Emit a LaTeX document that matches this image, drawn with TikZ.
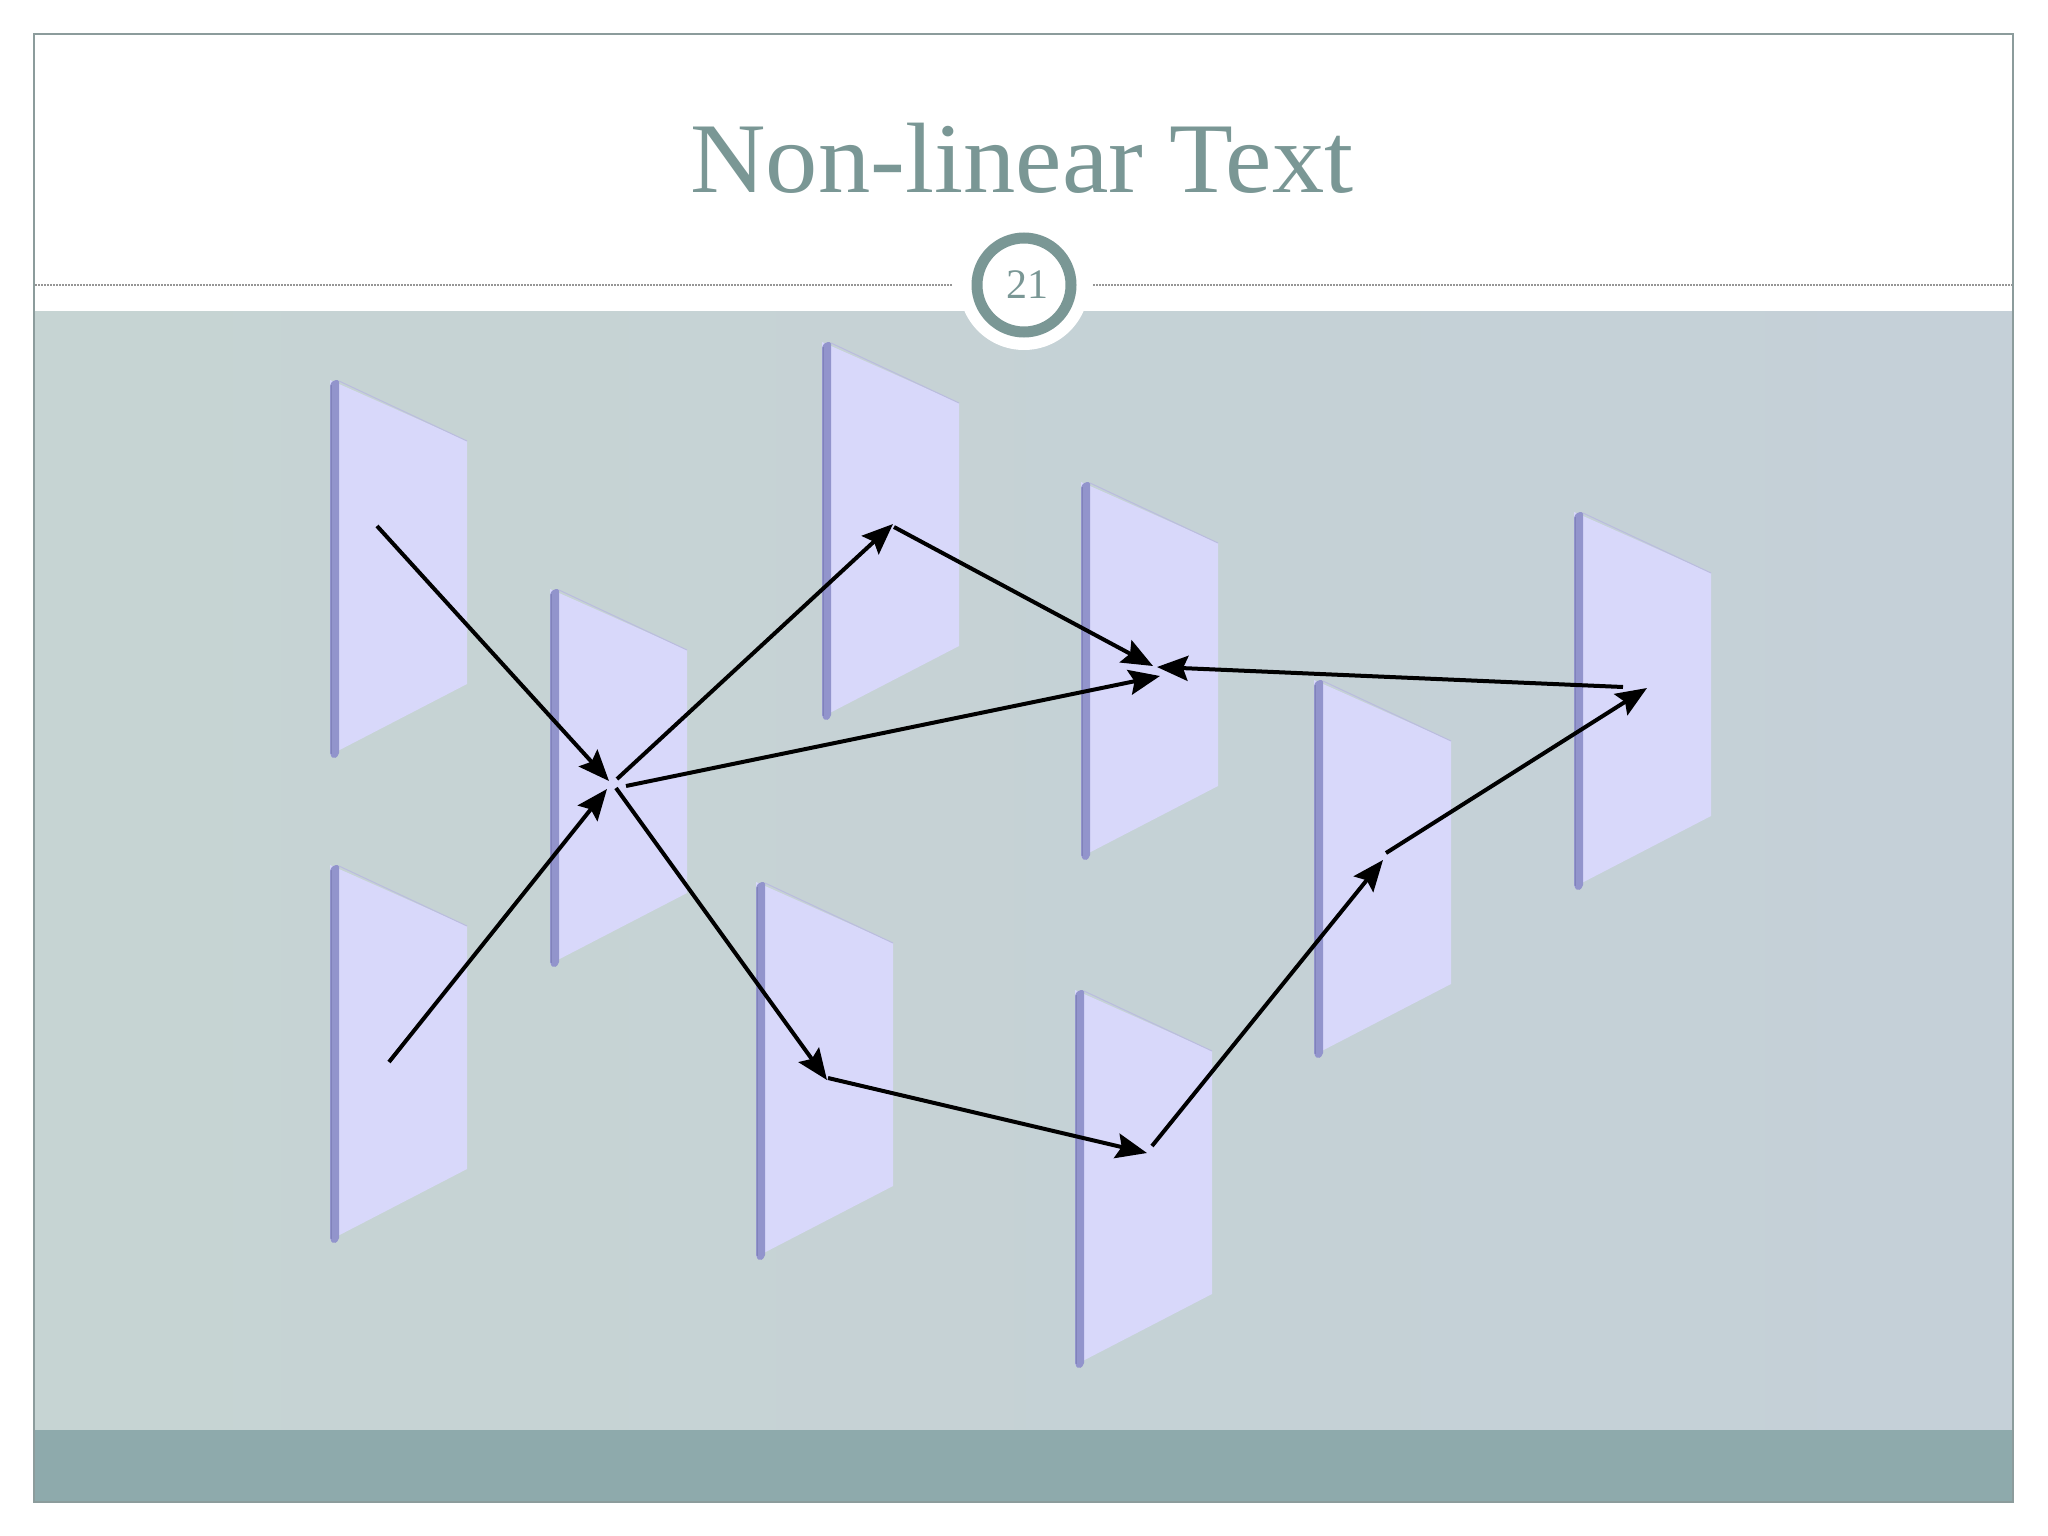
\documentclass[tikz,border=0pt]{standalone}
\usepackage{fontspec}
\setmainfont{Liberation Serif}
\usetikzlibrary{arrows.meta}
\definecolor{titlecol}{RGB}{122,151,149}
\definecolor{bgleft}{RGB}{198,212,211}
\definecolor{bgright}{RGB}{197,208,216}
\definecolor{band}{RGB}{142,170,172}
\definecolor{framecol}{RGB}{140,156,156}
\definecolor{face}{RGB}{216,216,250}
\definecolor{faceedge}{RGB}{186,188,222}
\definecolor{side}{RGB}{146,148,204}
\definecolor{sidedark}{RGB}{128,130,186}
\definecolor{dotcol}{RGB}{150,150,150}
\tikzset{
  slab/.pic={
    \fill[face] (0,0) -- (137,61) -- (137,304) -- (0,375) -- cycle;
    \draw[faceedge, line width=1pt] (9,1) -- (137,61);
    \fill[side, rounded corners=2pt] (0,4) -- (4,0) -- (9,0) -- (9,375) -- (4,379) -- (0,375) -- cycle;
    \draw[sidedark, line width=1pt] (1,5) -- (1,374);
  },
  link/.style={draw=black, line width=4pt, -{Stealth[length=31pt,width=25pt,inset=5pt]}},
}
\begin{document}
\begin{tikzpicture}[x=1pt,y=-1pt]
\useasboundingbox (0,0) rectangle (2048,1536);
\fill[white] (0,0) rectangle (2048,1536);
% content area
\shade[left color=bgleft, right color=bgright] (34,311) rectangle (2013,1430);
\fill[band] (34,1430) rectangle (2013,1502);
\draw[framecol, line width=2pt] (34,34) rectangle (2013,1502);
% dotted separator
\draw[dotcol, line width=1.5pt, dash pattern=on 1.5pt off 1.5pt] (35,285) -- (953,285);
\draw[dotcol, line width=1.5pt, dash pattern=on 1.5pt off 1.5pt] (1093,285) -- (2012,285);
% slide number
\fill[white] (1024,285) circle (65);
\draw[titlecol, line width=11pt] (1024,285) circle (47);
\node[text=titlecol, font=\fontsize{42}{46}\selectfont] (num) at (1027,285) {21};
% title
\node[text=titlecol, font=\fontsize{100}{110}\selectfont, anchor=base] (title) at (1022,193) {\scalebox{1.045}[1]{Non-linear Text}};
% panels
\pic at (330,380) {slab};
\pic at (550,589) {slab};
\pic at (822,342) {slab};
\pic at (330,865) {slab};
\pic at (1081,482) {slab};
\pic at (756,882) {slab};
\pic at (1314,680) {slab};
\pic at (1075,990) {slab};
\pic at (1574,512) {slab};
% arrow end points
\coordinate (a1s) at (377,526);  \coordinate (a1e) at (609,781);
\coordinate (a2s) at (389,1062); \coordinate (a2e) at (607,789);
\coordinate (a3s) at (617,779);  \coordinate (a3e) at (893,524);
\coordinate (a4s) at (894,527);  \coordinate (a4e) at (1153,666);
\coordinate (a5s) at (626,786);  \coordinate (a5e) at (1160,676);
\coordinate (a6s) at (1623,687); \coordinate (a6e) at (1157,667);
\coordinate (a7s) at (616,788);  \coordinate (a7e) at (827,1080);
\coordinate (a8s) at (828,1078); \coordinate (a8e) at (1147,1153);
\coordinate (a9s) at (1152,1146);\coordinate (a9e) at (1383,860);
\coordinate (a10s) at (1386,853);\coordinate (a10e) at (1647,688);
\draw[link] (a1s) -- (a1e);
\draw[link] (a2s) -- (a2e);
\draw[link] (a3s) -- (a3e);
\draw[link] (a4s) -- (a4e);
\draw[link] (a5s) -- (a5e);
\draw[link] (a6s) -- (a6e);
\draw[link] (a7s) -- (a7e);
\draw[link] (a8s) -- (a8e);
\draw[link] (a9s) -- (a9e);
\draw[link] (a10s) -- (a10e);
\end{tikzpicture}
\end{document}
